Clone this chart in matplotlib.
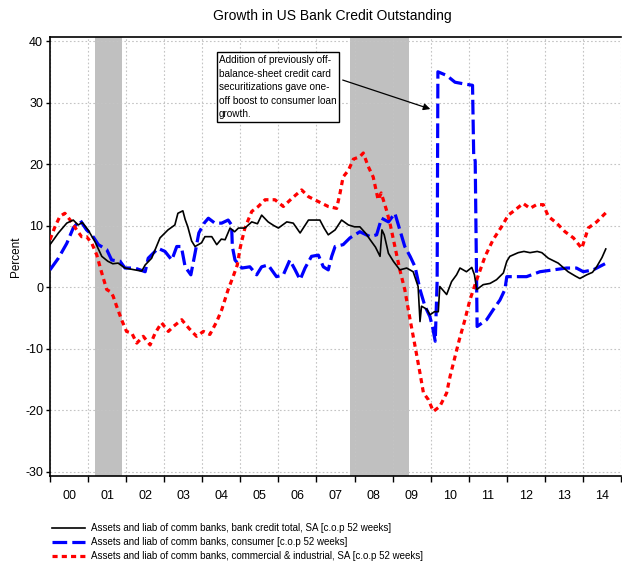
import matplotlib
matplotlib.use("Agg")
import matplotlib.pyplot as plt

# --- data (fractional years / percent) ---
total_t = [2000.0, 2000.22, 2000.44, 2000.61, 2000.74, 2000.85, 2001.0, 2001.18, 2001.36, 2001.52,
           2001.65, 2001.79, 2001.97, 2002.23, 2002.41, 2002.5, 2002.67, 2002.89, 2003.1, 2003.28,
           2003.36, 2003.49, 2003.55, 2003.62, 2003.72, 2003.81, 2003.98, 2004.07, 2004.25, 2004.38,
           2004.5, 2004.6, 2004.73, 2004.85, 2004.95, 2005.12, 2005.3, 2005.45, 2005.56, 2005.73,
           2005.88, 2006.0, 2006.22, 2006.39, 2006.57, 2006.79, 2007.09, 2007.2, 2007.31, 2007.49,
           2007.66, 2007.84, 2008.0, 2008.14, 2008.3, 2008.41, 2008.55, 2008.67, 2008.72, 2008.78,
           2008.89, 2009.02, 2009.19, 2009.37, 2009.54, 2009.67, 2009.72, 2009.76, 2009.9, 2009.98,
           2010.1, 2010.2, 2010.24, 2010.42, 2010.55, 2010.68, 2010.77, 2010.94, 2011.08, 2011.15,
           2011.21, 2011.38, 2011.56, 2011.73, 2011.91, 2012.0, 2012.08, 2012.3, 2012.45, 2012.61,
           2012.8, 2012.92, 2013.09, 2013.35, 2013.61, 2013.8, 2013.92, 2014.1, 2014.25, 2014.36,
           2014.5, 2014.6]
total_v = [6.9, 8.8, 10.4, 10.9, 10.1, 10.5, 9.3, 7.4, 5.0, 4.2,
           3.8, 3.9, 3.1, 2.8, 2.6, 3.6, 4.7, 8.0, 9.3, 10.1,
           12.0, 12.4, 11.0, 9.8, 7.5, 6.6, 7.2, 8.2, 8.2, 6.9,
           7.8, 7.7, 9.6, 9.0, 9.6, 9.6, 10.6, 10.3, 11.7, 10.6,
           10.0, 9.6, 10.6, 10.4, 8.8, 10.9, 10.9, 9.6, 8.5, 9.3,
           10.9, 10.1, 9.8, 9.8, 8.7, 7.7, 6.5, 5.0, 9.3, 8.5,
           5.5, 4.2, 2.8, 3.1, 2.5, 0.1, -5.6, -3.1, -3.6, -4.5,
           -4.0, -4.0, 0.1, -1.2, 0.9, 2.0, 3.1, 2.5, 3.2, 2.0,
           -0.4, 0.4, 0.6, 1.2, 2.3, 4.2, 5.0, 5.6, 5.8, 5.6,
           5.8, 5.6, 4.7, 3.9, 2.5, 1.8, 1.4, 2.0, 2.4, 3.3,
           4.8, 6.2]

consumer_t = [2000.0, 2000.22, 2000.44, 2000.61, 2000.79, 2000.96, 2001.1, 2001.27, 2001.49, 2001.62,
              2001.84, 2001.97, 2002.23, 2002.5, 2002.58, 2002.84, 2003.02, 2003.2, 2003.33, 2003.45,
              2003.55, 2003.7, 2003.81, 2003.91, 2004.05, 2004.16, 2004.33, 2004.51, 2004.68, 2004.77,
              2004.79, 2004.86, 2005.04, 2005.25, 2005.43, 2005.56, 2005.73, 2005.95, 2006.13, 2006.3,
              2006.44, 2006.57, 2006.7, 2006.87, 2007.05, 2007.18, 2007.31, 2007.4, 2007.49, 2007.7,
              2007.88, 2008.14, 2008.41, 2008.58, 2008.71, 2008.89, 2009.06, 2009.19, 2009.32, 2009.46,
              2009.59, 2009.72, 2009.85, 2009.98, 2010.05, 2010.12, 2010.17, 2010.19, 2010.42, 2010.64,
              2010.9, 2011.1, 2011.13, 2011.17, 2011.22, 2011.47, 2011.64, 2011.82, 2011.95, 2012.0,
              2012.17, 2012.52, 2012.87, 2013.22, 2013.57, 2013.83, 2014.01, 2014.27, 2014.58]
consumer_v = [2.8, 4.7, 7.1, 9.6, 10.9, 9.3, 8.5, 6.9, 6.1, 4.4,
              4.2, 3.1, 3.1, 2.5, 4.7, 6.3, 5.8, 4.4, 6.6, 6.6,
              3.3, 2.0, 5.5, 8.8, 10.4, 11.2, 10.4, 10.4, 10.9, 10.1,
              6.6, 4.4, 3.1, 3.3, 2.0, 3.3, 3.6, 1.7, 2.0, 4.4,
              2.8, 1.2, 3.1, 5.0, 5.2, 3.3, 2.8, 5.0, 6.6, 6.9,
              8.0, 9.0, 8.2, 8.5, 11.2, 10.6, 12.0, 9.3, 6.6, 5.0,
              3.3, -0.4, -3.1, -4.8, -6.5, -8.8, 1.0, 35.0, 34.4, 33.3,
              33.0, 32.8, 21.5, 20.5, -6.4, -5.3, -3.7, -2.1, -0.4, 1.7,
              1.7, 1.7, 2.5, 2.8, 3.1, 3.1, 2.5, 2.8, 3.8]

ci_t = [2000.0, 2000.13, 2000.26, 2000.39, 2000.53, 2000.7, 2000.83, 2000.96, 2001.1, 2001.23,
        2001.36, 2001.49, 2001.6, 2001.66, 2001.75, 2001.88, 2002.01, 2002.15, 2002.28, 2002.45,
        2002.63, 2002.76, 2002.93, 2003.11, 2003.24, 2003.46, 2003.65, 2003.85, 2004.03, 2004.2,
        2004.38, 2004.51, 2004.68, 2004.81, 2004.92, 2005.0, 2005.12, 2005.3, 2005.47, 2005.65,
        2005.91, 2006.13, 2006.35, 2006.61, 2006.79, 2007.05, 2007.31, 2007.53, 2007.62, 2007.7,
        2007.84, 2007.97, 2008.14, 2008.23, 2008.36, 2008.49, 2008.62, 2008.7, 2008.84, 2008.93,
        2009.06, 2009.19, 2009.32, 2009.46, 2009.59, 2009.72, 2009.81, 2009.94, 2010.07, 2010.24,
        2010.42, 2010.51, 2010.64, 2010.75, 2010.9, 2011.03, 2011.21, 2011.43, 2011.64, 2011.86,
        2012.04, 2012.21, 2012.43, 2012.61, 2012.78, 2012.96, 2013.09, 2013.31, 2013.53, 2013.75,
        2013.97, 2014.14, 2014.36, 2014.67]
ci_v = [7.7, 9.8, 11.5, 12.0, 10.9, 9.3, 8.2, 8.2, 7.1, 5.2,
        2.3, -0.4, -0.8, -1.5, -3.1, -5.3, -7.2, -7.5, -9.1, -8.0,
        -9.4, -7.5, -5.8, -7.2, -6.4, -5.3, -6.7, -8.0, -7.2, -7.7,
        -5.6, -3.7, -0.4, 1.7, 3.6, 6.5, 9.6, 12.3, 13.1, 14.2,
        14.2, 13.1, 14.4, 15.8, 14.7, 13.9, 13.1, 12.8, 15.3, 17.9,
        19.0, 20.8, 21.2, 21.8, 19.6, 17.9, 14.2, 15.3, 12.5, 10.4,
        6.6, 2.8, -0.4, -5.3, -9.6, -14.0, -17.2, -18.3, -20.2, -19.4,
        -17.2, -14.5, -11.3, -8.6, -5.3, -2.1, 1.2, 5.0, 7.7, 9.8,
        11.7, 12.5, 13.6, 12.8, 13.4, 13.4, 11.5, 10.4, 9.0, 8.0,
        6.3, 9.6, 10.6, 12.5]

recessions = [(2001.17, 2001.88), (2007.87, 2009.42)]
years = list(range(2000, 2015))
year_labels = ["%02d" % (y % 100) for y in years]

labels = ["Assets and liab of comm banks, bank credit total, SA [c.o.p 52 weeks]",
          "Assets and liab of comm banks, consumer [c.o.p 52 weeks]",
          "Assets and liab of comm banks, commercial & industrial, SA [c.o.p 52 weeks]"]
note = ("Addition of previously off-\nbalance-sheet credit card\nsecuritizations gave one-\n"
        "off boost to consumer loan\ngrowth.")

plt.rcParams["font.family"] = ["Liberation Sans", "DejaVu Sans"]
plt.rcParams["axes.unicode_minus"] = False

W, H = 622, 564
fig = plt.figure(figsize=(W / 100, H / 100), dpi=100)
ax = fig.add_axes([50 / W, 1 - 476 / H, 571 / W, (476 - 36.7) / H])

for a, b in recessions:
    ax.axvspan(a, b, color="#c0c0c0", lw=0, zorder=1)

ax.plot(total_t, total_v, color="black", lw=1.2, zorder=4, label=labels[0])
ax.plot(consumer_t, consumer_v, color="#0000ff", lw=2.3, dashes=(4.6, 1.6), zorder=3, label=labels[1])
ax.plot(ci_t, ci_v, color="#ff0000", lw=2.3, dashes=(1.6, 1.3), zorder=3, label=labels[2])

ax.set_xlim(2000, 2015)
ax.set_ylim(-30.7, 40.7)
ax.set_yticks([-30, -20, -10, 0, 10, 20, 30, 40])
ax.set_xticks(range(2000, 2016))
ax.set_xticklabels([])
ax.set_xticks([y + 0.5 for y in years], minor=True)
ax.set_xticklabels(year_labels, minor=True)
ax.tick_params(axis="x", which="major", direction="out", length=4, width=1)
ax.tick_params(axis="x", which="minor", length=0, labelsize=9, pad=10)
ax.tick_params(axis="y", direction="out", length=3, width=1, labelsize=9, pad=2)
ax.grid(True, which="major", color="#c4c4c4", ls=(0, (1.5, 2)), lw=0.8, zorder=0)
for s in ["left", "bottom", "top"]:
    ax.spines[s].set_linewidth(1.2)
ax.spines["right"].set_visible(False)
ax.set_ylabel("Percent", fontsize=8.5)
ax.yaxis.set_label_coords(-28 / 571, 0.5)

ax.annotate("", xy=(2010.06, 28.8), xytext=(2007.62, 33.8),
            arrowprops=dict(arrowstyle="-|>", color="black", lw=0.9, mutation_scale=10), zorder=6)
fig.text(219 / W, 1 - 55 / H, note, fontsize=7.2, va="top", ha="left", linespacing=1.45,
         bbox=dict(boxstyle="square,pad=0.25", fc="white", ec="black", lw=1), zorder=7)

fig.text(332 / W, 1 - 16 / H, "Growth in US Bank Credit Outstanding", fontsize=10, ha="center", va="center")

fig.legend(loc="upper left", bbox_to_anchor=(52 / W, 1 - 523 / H), frameon=False, fontsize=7,
           handlelength=3.4, handletextpad=0.6, labelspacing=0.42, borderpad=0, borderaxespad=0)

fig.savefig("out.png", dpi=100)
